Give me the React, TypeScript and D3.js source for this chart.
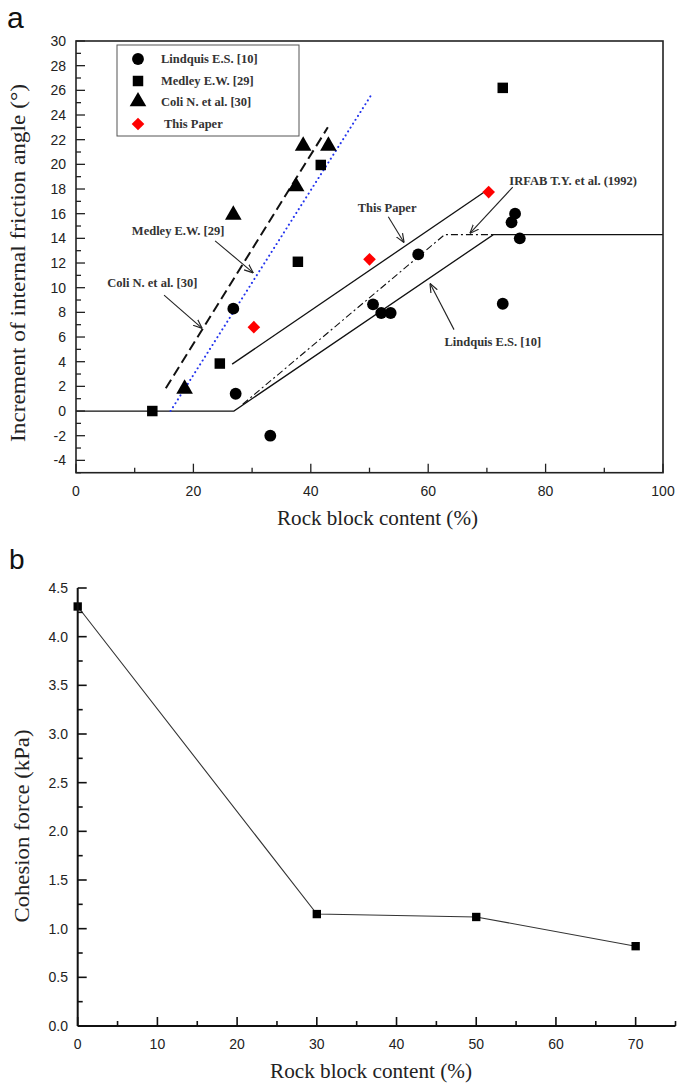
import React from "react";
import * as d3 from "d3";

// ---------- Panel (a) data ----------
const lindquisPts: [number, number][] = [
  [26.8, 8.3], [27.2, 1.4], [33.1, -2.0], [58.3, 12.7], [50.6, 8.65], [52.0, 7.95],
  [53.6, 7.95], [72.7, 8.7], [75.6, 14.0], [74.2, 15.3], [74.8, 16.0],
];
const medleyPts: [number, number][] = [
  [13.0, 0], [24.5, 3.85], [37.8, 12.1], [41.7, 19.95], [72.7, 26.2],
];
const coliPts: [number, number][] = [
  [18.5, 1.8], [26.8, 15.9], [37.5, 18.2], [38.7, 21.5], [43.0, 21.5],
];
const thisPaperPts: [number, number][] = [
  [30.3, 6.8], [50.0, 12.3], [70.3, 17.75],
];
const lindquisLine: [number, number][] = [[0, 0], [26.9, 0], [71.1, 14.3], [100, 14.3]];
const irfabLine: [number, number][] = [[28.4, 0.55], [62.8, 14.3], [71.1, 14.3]];
const thisPaperLine: [number, number][] = [[26.6, 3.8], [70.0, 17.9]];
const coliLine: [number, number][] = [[15.3, 1.85], [42.9, 23.0]];
const medleyLine: [number, number][] = [[16.1, 0], [50.4, 25.7]];

const legendLabels = ["Lindquis E.S. [10]", "Medley E.W. [29]", "Coli N. et al. [30]", "This Paper"];

// annotations: text, text-center (data), arrow start, arrow end (data)
const annotations = [
  { text: "Medley E.W. [29]", at: [17.4, 14.6], from: [23.7, 13.8], to: [30.2, 11.2] },
  { text: "Coli N. et al. [30]", at: [13.0, 10.4], from: [15.0, 9.4], to: [21.5, 6.7] },
  { text: "This Paper", at: [53.0, 16.5], from: [53.2, 15.75], to: [55.9, 13.65] },
  { text: "IRFAB T.Y. et al. (1992)", at: [84.7, 18.65], from: [74.4, 18.15], to: [67.1, 14.4] },
  { text: "Lindquis E.S. [10]", at: [71.0, 5.6], from: [64.4, 6.6], to: [60.3, 10.35] },
];

const aXTicks = [0, 20, 40, 60, 80, 100];
const aXMinor = [10, 30, 50, 70, 90];
const aYTicks = d3.range(-4, 31, 2);
const aYMinor = d3.range(-5, 30, 2);

// ---------- Panel (b) data ----------
const bX = [0, 30, 50, 70];
const bY = [4.31, 1.15, 1.12, 0.82];
const bXTicks = [0, 10, 20, 30, 40, 50, 60, 70];
const bXMinor = [5, 15, 25, 35, 45, 55, 65, 75];
const bYTicks = [0, 0.5, 1, 1.5, 2, 2.5, 3, 3.5, 4, 4.5];
const bYMinor = [0.25, 0.75, 1.25, 1.75, 2.25, 2.75, 3.25, 3.75, 4.25];

const SERIF = "'Liberation Serif', 'Times New Roman', serif";
const SANS = "'Liberation Sans', Arial, sans-serif";

export default function App() {
  // Panel a scales
  const ax = d3.scaleLinear().domain([0, 100]).range([76, 663]);
  const ay = d3.scaleLinear().domain([-5, 30]).range([472.7, 41]);
  const aLine = d3.line<[number, number]>().x((d) => ax(d[0])).y((d) => ay(d[1]));

  // Panel b scales
  const bx = d3.scaleLinear().domain([0, 75]).range([77.7, 675.5]);
  const by = d3.scaleLinear().domain([0, 4.5]).range([1026, 588]);
  const bLine = d3.line<number>().x((_, i) => bx(bX[i])).y((d) => by(d));

  const circle = d3.symbol(d3.symbolCircle, 110)();
  const square = d3.symbol(d3.symbolSquare, 110)();
  const triangle = d3.symbol(d3.symbolTriangle, 120)();
  const diamond = d3.symbol(d3.symbolSquare, 80)();
  const bSquare = d3.symbol(d3.symbolSquare, 70)();

  const legendX = 138;
  const legendYs = [59, 81, 101.5, 124];

  return (
    <svg width={677} height={1083} style={{ position: "absolute", left: 0, top: 0, background: "#fff" }}>
      <defs>
        <marker id="arr" viewBox="0 0 10 10" refX="10" refY="5" markerWidth="9" markerHeight="9" orient="auto" markerUnits="userSpaceOnUse">
          <path d="M0,1 L10,5 L0,9" fill="none" stroke="#222" strokeWidth={1.3} />
        </marker>
      </defs>
      {/* ================= Panel a ================= */}
      <text x={7} y={28} fontFamily={SANS} fontSize={30} fill="#111">a</text>
      {/* lines */}
      <path d={aLine(lindquisLine)!} fill="none" stroke="#111" strokeWidth={1.3} />
      <path d={aLine(irfabLine)!} fill="none" stroke="#111" strokeWidth={1.1} strokeDasharray="7 3 2 3" />
      <path d={aLine(thisPaperLine)!} fill="none" stroke="#111" strokeWidth={1.3} />
      <path d={aLine(coliLine)!} fill="none" stroke="#111" strokeWidth={2} strokeDasharray="10 5" />
      <path d={aLine(medleyLine)!} fill="none" stroke="#2233ee" strokeWidth={2} strokeDasharray="0.1 4.5" strokeLinecap="round" />
      {/* markers */}
      {lindquisPts.map((p, i) => (
        <path key={"l" + i} d={circle!} transform={`translate(${ax(p[0])},${ay(p[1])})`} fill="#000" />
      ))}
      {medleyPts.map((p, i) => (
        <path key={"m" + i} d={square!} transform={`translate(${ax(p[0])},${ay(p[1])})`} fill="#000" />
      ))}
      {coliPts.map((p, i) => (
        <path key={"c" + i} d={triangle!} transform={`translate(${ax(p[0])},${ay(p[1])})`} fill="#000" />
      ))}
      {thisPaperPts.map((p, i) => (
        <path key={"t" + i} d={diamond!} transform={`translate(${ax(p[0])},${ay(p[1])}) rotate(45)`} fill="#ff0000" />
      ))}
      {/* annotations */}
      {annotations.map((a, i) => (
        <g key={"an" + i}>
          <line x1={ax(a.from[0])} y1={ay(a.from[1])} x2={ax(a.to[0])} y2={ay(a.to[1])} stroke="#222" strokeWidth={1.1} markerEnd="url(#arr)" />
          <text x={ax(a.at[0])} y={ay(a.at[1])} dy="0.35em" textAnchor="middle" fontFamily={SERIF} fontWeight="bold" fontSize={12.5} fill="#333">{a.text}</text>
        </g>
      ))}
      {/* box */}
      <rect x={ax(0)} y={ay(30)} width={ax(100) - ax(0)} height={ay(-5) - ay(30)} fill="none" stroke="#222" strokeWidth={1.6} />
      {/* x ticks */}
      {aXTicks.map((t) => (
        <g key={"ax" + t}>
          <line x1={ax(t)} x2={ax(t)} y1={ay(-5)} y2={ay(-5) - 9} stroke="#222" strokeWidth={1.3} />
          <text x={ax(t)} y={491} dy="0.35em" textAnchor="middle" fontFamily={SANS} fontSize={14} fill="#222">{t}</text>
        </g>
      ))}
      {aXMinor.map((t) => (
        <line key={"axm" + t} x1={ax(t)} x2={ax(t)} y1={ay(-5)} y2={ay(-5) - 5} stroke="#222" strokeWidth={1.3} />
      ))}
      {aYTicks.map((t) => (
        <g key={"ay" + t}>
          <line x1={ax(0)} x2={ax(0) + 9} y1={ay(t)} y2={ay(t)} stroke="#222" strokeWidth={1.3} />
          <text x={66} y={ay(t)} dy="0.35em" textAnchor="end" fontFamily={SANS} fontSize={14} fill="#222">{t}</text>
        </g>
      ))}
      {aYMinor.map((t) => (
        <line key={"aym" + t} x1={ax(0)} x2={ax(0) + 5} y1={ay(t)} y2={ay(t)} stroke="#222" strokeWidth={1.3} />
      ))}
      <text x={377.5} y={525} textAnchor="middle" fontFamily={SERIF} fontSize={21} textLength={201} lengthAdjust="spacingAndGlyphs" fill="#222">Rock block content (%)</text>
      <text transform={`translate(25,263) rotate(-90)`} textAnchor="middle" fontFamily={SERIF} fontSize={21} textLength={358} lengthAdjust="spacingAndGlyphs" fill="#222">Increment of internal friction angle (°)</text>
      {/* legend */}
      <rect x={117} y={45} width={182} height={91} fill="#fff" stroke="#555" strokeWidth={1} />
      <path d={circle!} transform={`translate(${legendX},${legendYs[0]})`} fill="#000" />
      <path d={square!} transform={`translate(${legendX},${legendYs[1]})`} fill="#000" />
      <path d={triangle!} transform={`translate(${legendX},${legendYs[2]})`} fill="#000" />
      <path d={diamond!} transform={`translate(${legendX},${legendYs[3]}) rotate(45)`} fill="#ff0000" />
      {legendLabels.map((l, i) => (
        <text key={"lg" + i} x={i === 3 ? 164 : 161} y={legendYs[i]} dy="0.35em" fontFamily={SERIF} fontWeight="bold" fontSize={12.5} fill="#333">{l}</text>
      ))}

      {/* ================= Panel b ================= */}
      <text x={9} y={569} fontFamily={SANS} fontSize={28} fill="#111">b</text>
      <path d={bLine(bY)!} fill="none" stroke="#333" strokeWidth={1.1} />
      {bY.map((v, i) => (
        <path key={"bs" + i} d={bSquare!} transform={`translate(${bx(bX[i])},${by(v)})`} fill="#000" />
      ))}
      <line x1={bx(0)} x2={bx(75)} y1={by(0)} y2={by(0)} stroke="#111" strokeWidth={2} />
      <line x1={bx(0)} x2={bx(0)} y1={by(0)} y2={by(4.5)} stroke="#111" strokeWidth={2} />
      {bXTicks.map((t) => (
        <g key={"bx" + t}>
          <line x1={bx(t)} x2={bx(t)} y1={by(0)} y2={by(0) - 9} stroke="#111" strokeWidth={1.6} />
          <text x={bx(t)} y={1044} dy="0.35em" textAnchor="middle" fontFamily={SANS} fontSize={14} fill="#222">{t}</text>
        </g>
      ))}
      {bXMinor.map((t) => (
        <line key={"bxm" + t} x1={bx(t)} x2={bx(t)} y1={by(0)} y2={by(0) - 5} stroke="#111" strokeWidth={1.6} />
      ))}
      {bYTicks.map((t) => (
        <g key={"by" + t}>
          <line x1={bx(0)} x2={bx(0) + 9} y1={by(t)} y2={by(t)} stroke="#111" strokeWidth={1.6} />
          <text x={68} y={by(t)} dy="0.35em" textAnchor="end" fontFamily={SANS} fontSize={14} fill="#222">{d3.format(".1f")(t)}</text>
        </g>
      ))}
      {bYMinor.map((t) => (
        <line key={"bym" + t} x1={bx(0)} x2={bx(0) + 5} y1={by(t)} y2={by(t)} stroke="#111" strokeWidth={1.6} />
      ))}
      <text x={371} y={1078} textAnchor="middle" fontFamily={SERIF} fontSize={21} textLength={202} lengthAdjust="spacingAndGlyphs" fill="#222">Rock block content (%)</text>
      <text transform={`translate(29,826) rotate(-90)`} textAnchor="middle" fontFamily={SERIF} fontSize={21} textLength={193} lengthAdjust="spacingAndGlyphs" fill="#222">Cohesion force (kPa)</text>
    </svg>
  );
}
